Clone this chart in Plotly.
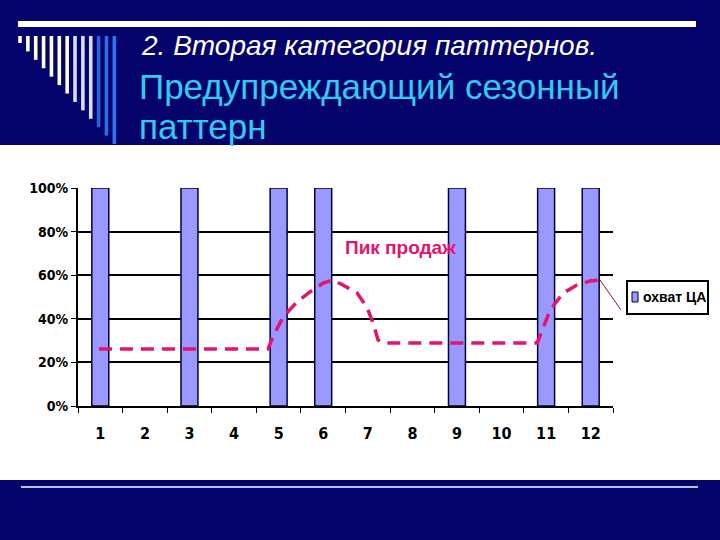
import plotly.graph_objects as go

# --- Daten ---
months = ["1", "2", "3", "4", "5", "6", "7", "8", "9", "10", "11", "12"]
coverage = [100, None, 100, None, 100, 100, None, None, 100, None, 100, 100]  # охват ЦА, %

# Saisonkurve (gestrichelt), x in Monats-Einheiten, y in %
curve_x = [0.97, 4.76, 4.87, 5.10, 5.41, 5.70, 6.00, 6.22, 6.44, 6.76, 6.98, 7.12,
           7.23, 7.34, 10.80, 10.91, 11.09, 11.38, 11.69, 11.98, 12.21]
curve_y = [26.1, 26.1, 31.6, 40.8, 47.7, 52.3, 56.4, 57.8, 55.5, 51.8, 45.4, 38.0,
           30.3, 28.9, 28.9, 34.9, 44.0, 51.8, 55.5, 57.3, 57.8]

NAVY = "#03036B"
PINK = "#E3136E"
BAR = "#9999FF"
W, H = 720, 540

def px(x):
    return x / W

def py(y):
    return 1 - y / H

fig = go.Figure()

fig.add_trace(go.Bar(
    x=months, y=coverage, name="охват ЦА", showlegend=False,
    marker=dict(color=BAR, line=dict(color="#000040", width=1.5)),
))

fig.add_trace(go.Scatter(
    x=curve_x, y=curve_y, xaxis="x2", mode="lines", showlegend=False,
    line=dict(color=PINK, width=3.5, dash="13px,8px"),
    hoverinfo="skip",
))

shapes = []
# weisser Folienbereich
shapes.append(dict(type="rect", xref="paper", yref="paper", x0=0, x1=1,
                   y0=py(480), y1=py(145), fillcolor="white", line_width=0, layer="below"))
# obere und untere Linie
shapes.append(dict(type="rect", xref="paper", yref="paper", x0=px(18), x1=px(696),
                   y0=py(27), y1=py(21), fillcolor="white", line_width=0, layer="below"))
shapes.append(dict(type="line", xref="paper", yref="paper", x0=px(21), x1=px(698),
                   y0=py(487), y1=py(487), line=dict(color="white", width=1.5), layer="below"))
# Deko-Streifen links
deco_colors = ["#FFFFD0"] * 7 + ["#DCDCF4"] * 3 + ["#2A62D6", "#2E6CE0", "#3173EE"]
for i, c in enumerate(deco_colors):
    cx = 20 + 7.86 * i
    shapes.append(dict(type="rect", xref="paper", yref="paper",
                       x0=px(cx - 1.8), x1=px(cx + 1.8), y0=py(43 + 8.42 * i), y1=py(36),
                       fillcolor=c, line_width=0, layer="below"))
# Verbindungslinie zur Legende
shapes.append(dict(type="line", xref="paper", yref="paper", x0=px(600), y0=py(280),
                   x1=px(621), y1=py(310), line=dict(color="#8B1A1A", width=1)))
# Legende: Rahmen + Symbol
shapes.append(dict(type="rect", xref="paper", yref="paper", x0=px(627), x1=px(708),
                   y0=py(314), y1=py(281), fillcolor="white", line=dict(color="black", width=2)))
shapes.append(dict(type="rect", xref="paper", yref="paper", x0=px(632), x1=px(638),
                   y0=py(302), y1=py(292), fillcolor=BAR, line=dict(color="#000040", width=1)))

annotations = [
    dict(text="<i>2. Вторая категория паттернов.</i>", xref="paper", yref="paper",
         x=px(139), y=py(45), xanchor="left", yanchor="middle", showarrow=False,
         font=dict(family="Liberation Sans, Arial", size=28, color="white")),
    dict(text="Предупреждающий сезонный", xref="paper", yref="paper",
         x=px(137), y=py(87), xanchor="left", yanchor="middle", showarrow=False,
         font=dict(family="Liberation Sans, Arial", size=35, color="#2FCBF0")),
    dict(text="паттерн", xref="paper", yref="paper",
         x=px(137), y=py(126), xanchor="left", yanchor="middle", showarrow=False,
         font=dict(family="Liberation Sans, Arial", size=35, color="#2FCBF0")),
    dict(text="Пик продаж", xref="paper", yref="paper",
         x=px(343), y=py(247), xanchor="left", yanchor="middle", showarrow=False,
         font=dict(family="Liberation Sans, Arial", size=19, color=PINK, weight="bold")),
    dict(text="охват ЦА", xref="paper", yref="paper",
         x=px(641), y=py(297), xanchor="left", yanchor="middle", showarrow=False,
         font=dict(family="Liberation Sans, Arial", size=14, color="black", weight="bold")),
]

tick_font = dict(family="Liberation Sans Narrow, DejaVu Sans Condensed, Arial Narrow, Liberation Sans",
                 size=14, color="black", weight="bold")

fig.update_layout(
    width=W, height=H,
    margin=dict(l=0, r=0, t=0, b=0, autoexpand=False),
    paper_bgcolor=NAVY,
    plot_bgcolor="#C0C0C0",
    bargap=0.62,
    shapes=shapes,
    annotations=annotations,
    showlegend=False,
    xaxis=dict(domain=[px(78), px(613)], type="category", range=[-0.5, 11.5],
               showline=True, linecolor="black", linewidth=2,
               ticks="outside", tickson="boundaries", ticklen=5, tickcolor="black",
               showgrid=False, tickfont=dict(tick_font, size=16), automargin=False,
               ticklabelstandoff=12),
    xaxis2=dict(domain=[px(78), px(613)], overlaying="x", range=[0.5, 12.5],
                visible=False),
    yaxis=dict(domain=[py(406), py(188)], range=[0, 100], dtick=20, ticksuffix="%",
               showline=True, linecolor="black", linewidth=2,
               ticks="outside", ticklen=5, tickcolor="black",
               showgrid=True, gridcolor="black", gridwidth=1.5, zeroline=False,
               tickfont=tick_font, automargin=False),
)

fig.write_html("out.html", config={"displayModeBar": False},
               post_script="document.body.style.margin='0';document.body.style.overflow='hidden';")
